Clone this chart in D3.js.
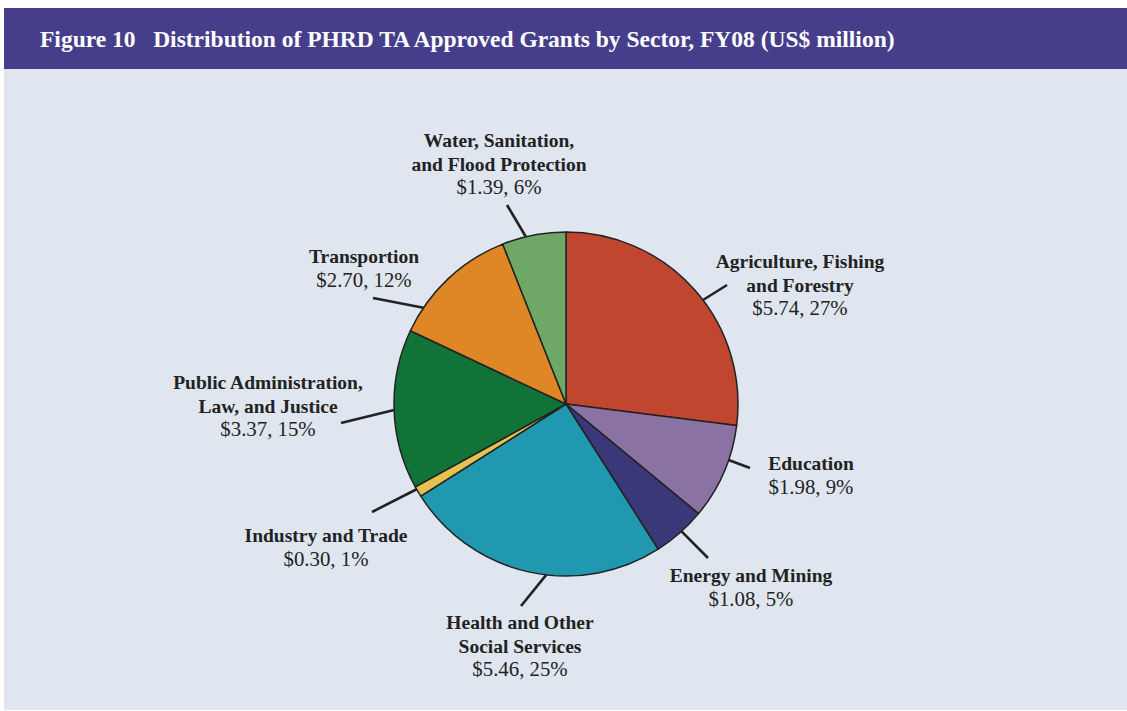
<!DOCTYPE html>
<html>
<head>
<meta charset="utf-8">
<script src="https://cdn.jsdelivr.net/npm/d3@7"></script>
<style>
  html, body { margin: 0; padding: 0; background: #fff; }
  svg { display: block; }
</style>
</head>
<body>
<div id="chart"></div>
<script>
// Sector data, clockwise from 12 o'clock
const sectors = [
    'Agriculture, Fishing and Forestry',
    'Education',
    'Energy and Mining',
    'Health and Other Social Services',
    'Industry and Trade',
    'Public Administration, Law, and Justice',
    'Transportion',
    'Water, Sanitation, and Flood Protection'
];
const amounts = [5.74, 1.98, 1.08, 5.46, 0.30, 3.37, 2.70, 1.39];
const shares = [27, 9, 5, 25, 1, 15, 12, 6];
const nameLines = [
    ['Agriculture, Fishing', 'and Forestry'],
    ['Education'],
    ['Energy and Mining'],
    ['Health and Other', 'Social Services'],
    ['Industry and Trade'],
    ['Public Administration,', 'Law, and Justice'],
    ['Transportion'],
    ['Water, Sanitation,', 'and Flood Protection']
];
const colors = ['#c1462f', '#8a73a2', '#3b387a', '#1f98b0', '#e3c24f', '#117338', '#df8726', '#6fa866'];

// Layout
const CONFIG = {
    width: 1127,
    height: 711,
    cx: 566,
    cy: 404,
    radius: 172,
    fontSize: 19.5,
    valueFontSize: 20.8,
    lineHeight: 23.5,
    font: '"Liberation Serif", "DejaVu Serif", serif',
    bar: '#463e8a',
    panel: '#dfe6ef',
    ink: '#222'
};
// label placement: leader start angle on the rim (deg), leader end and text anchor as offsets from centre
const labelLayout = [
    { angle: 52.8, ex: 161, ey: -119, dx: 234, dy: -136 },
    { angle: 109, ex: 184, ey: 64, dx: 245, dy: 66 },
    { angle: 137.8, ex: 142, ey: 154, dx: 185, dy: 178 },
    { angle: 186.6, ex: -45, ey: 202, dx: -46, dy: 225 },
    { angle: 240.3, ex: -194, ey: 108, dx: -240, dy: 138 },
    { angle: 268, ex: -225, ey: 19, dx: -298, dy: -15 },
    { angle: 304, ex: -193, ey: -106, dx: -202, dy: -141 },
    { angle: 346.5, ex: -59, ey: -199, dx: -67, dy: -257 }
];

const svg = d3.select('#chart').append('svg')
    .attr('width', CONFIG.width)
    .attr('height', CONFIG.height);

svg.append('rect')
    .attr('x', 4).attr('y', 69)
    .attr('width', CONFIG.width - 4).attr('height', 641)
    .attr('fill', CONFIG.panel);

svg.append('rect')
    .attr('x', 4).attr('y', 8)
    .attr('width', CONFIG.width - 4).attr('height', 61)
    .attr('fill', CONFIG.bar);

svg.append('text')
    .attr('x', 40).attr('y', 47)
    .attr('fill', '#fff')
    .attr('font-family', CONFIG.font)
    .attr('font-weight', 'bold')
    .attr('font-size', 23.5)
    .attr('xml:space', 'preserve')
    .text('Figure 10   Distribution of PHRD TA Approved Grants by Sector, FY08 (US$ million)');

const data = sectors.map((s, i) => ({
    name: s, amount: amounts[i], share: shares[i],
    lines: nameLines[i], color: colors[i], layout: labelLayout[i]
}));

const pie = d3.pie().sort(null).value(d => d.share);
const arc = d3.arc().innerRadius(0).outerRadius(CONFIG.radius);

const g = svg.append('g')
    .attr('transform', `translate(${CONFIG.cx},${CONFIG.cy})`);

g.selectAll('path')
    .data(pie(data))
    .enter()
    .append('path')
    .attr('d', arc)
    .attr('fill', d => d.data.color)
    .attr('stroke', CONFIG.ink)
    .attr('stroke-width', 1.5)
    .attr('stroke-linejoin', 'round');

// leader lines
const polar = (deg, r) => {
    const a = deg * Math.PI / 180;
    return [r * Math.sin(a), -r * Math.cos(a)];
};
g.selectAll('line.leader')
    .data(data)
    .enter()
    .append('line')
    .attr('class', 'leader')
    .attr('x1', d => polar(d.layout.angle, CONFIG.radius)[0])
    .attr('y1', d => polar(d.layout.angle, CONFIG.radius)[1])
    .attr('x2', d => d.layout.ex)
    .attr('y2', d => d.layout.ey)
    .attr('stroke', CONFIG.ink)
    .attr('stroke-width', 2.6);

// labels
const labels = g.selectAll('text.label')
    .data(data)
    .enter()
    .append('text')
    .attr('class', 'label')
    .attr('text-anchor', 'middle')
    .attr('font-family', CONFIG.font)
    .attr('font-size', CONFIG.fontSize)
    .attr('fill', CONFIG.ink);

labels.each(function(d) {
    const t = d3.select(this);
    d.lines.forEach((ln, k) => {
        t.append('tspan')
            .attr('x', d.layout.dx)
            .attr('y', d.layout.dy + k * CONFIG.lineHeight)
            .attr('font-weight', 'bold')
            .text(ln);
    });
    t.append('tspan')
        .attr('x', d.layout.dx)
        .attr('y', d.layout.dy + d.lines.length * CONFIG.lineHeight)
        .attr('font-size', CONFIG.valueFontSize)
        .text(`$${d.amount.toFixed(2)}, ${d.share}%`);
});
</script>
</body>
</html>
